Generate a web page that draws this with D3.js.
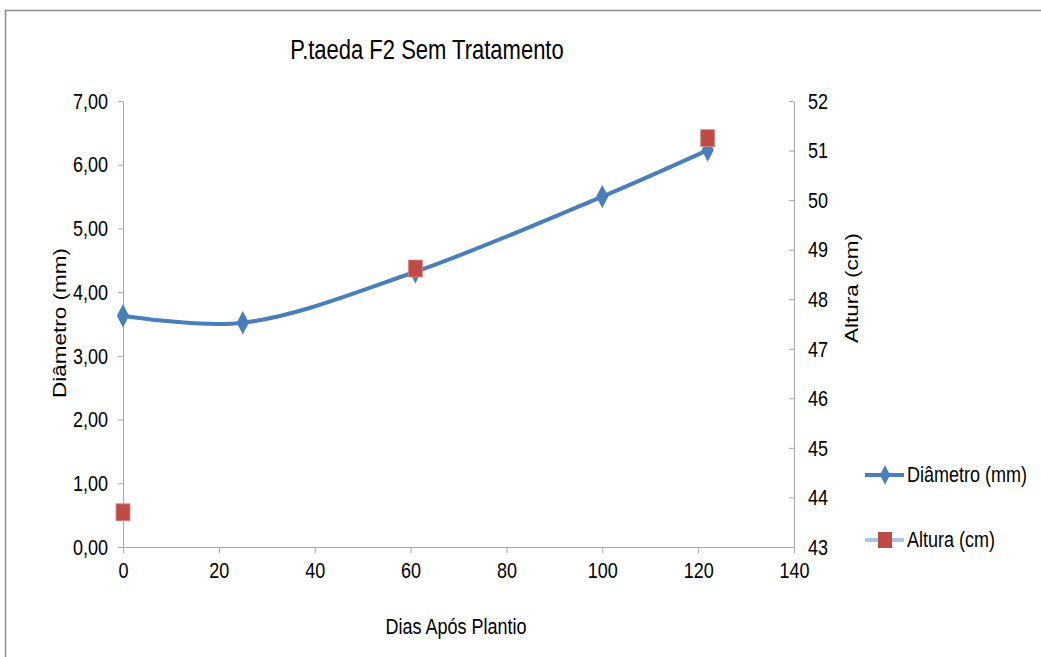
<!DOCTYPE html>
<html><head><meta charset="utf-8">
<script src="https://cdn.jsdelivr.net/npm/d3@7"></script>
<style>
html,body{margin:0;padding:0;background:#fff;}
text{font-family:"Liberation Sans",Arial,sans-serif;fill:#000;}
</style></head>
<body><svg id="c" width="1041" height="657"></svg>
<script>
const title = "P.taeda F2 Sem Tratamento";
const xLabel = "Dias Após Plantio";
const yLeftLabel = "Diâmetro  (mm)";
const yRightLabel = "Altura (cm)";
const diamDays = [0, 25, 61, 100, 122];
const diamValues = [3.63, 3.52, 4.32, 5.50, 6.23];
const altDays = [0, 61, 122];
const altValues = [43.7, 48.62, 51.25];
const xTicks = [0, 20, 40, 60, 80, 100, 120, 140];
const yLeftTicks = [0, 1, 2, 3, 4, 5, 6, 7];
const yRightTicks = [43, 44, 45, 46, 47, 48, 49, 50, 51, 52];
const legendNames = ["Diâmetro (mm)", "Altura (cm)"];

const svg = d3.select("#c");
const L = 123, R = 794, T = 101, B = 547;
const x = d3.scaleLinear().domain([0, 140]).range([L, R]);
const yL = d3.scaleLinear().domain([0, 7]).range([B, T]);
const yR = d3.scaleLinear().domain([43, 52]).range([B, T]);
const axisColor = "#a6a6a6";
const blue = "#4a7ebb", red = "#be4b48";

// frame
svg.append("path").attr("d", "M5.5,657 V10.5 H1041").attr("fill", "none").attr("stroke", "#8c8c8c").attr("stroke-width", 1.5);

const fs = "18px";
function styleAxis(g){
  g.selectAll("path,line").attr("stroke", axisColor);
  g.selectAll("text").attr("font-size", fs).attr("fill", "#000").style("font-family", '"Liberation Sans",Arial,sans-serif');
}

const fmt = d => d.toFixed(2).replace(".", ",");
const gL = svg.append("g").attr("transform", `translate(${L},0)`)
  .call(d3.axisLeft(yL).tickValues(yLeftTicks).tickFormat(fmt).tickSize(5).tickSizeOuter(0).tickPadding(10));
styleAxis(gL);
const gR = svg.append("g").attr("transform", `translate(${R},0)`)
  .call(d3.axisRight(yR).tickValues(yRightTicks).tickFormat(d3.format("d")).tickSize(0).tickSizeOuter(0).tickPadding(14));
gR.selectAll(".tick").append("line").attr("x1", -5).attr("x2", 0).attr("stroke", axisColor);
styleAxis(gR);
const gX = svg.append("g").attr("transform", `translate(0,${B})`)
  .call(d3.axisBottom(x).tickValues(xTicks).tickFormat(d3.format("d")).tickSize(6).tickSizeOuter(0).tickPadding(11));
styleAxis(gX);

// titles
svg.append("text").attr("x", 427).attr("y", 57).attr("text-anchor", "middle").attr("font-size", "22px").text(title);
svg.append("text").attr("x", 456).attr("y", 633).attr("text-anchor", "middle").attr("font-size", fs).text(xLabel);
svg.append("text").attr("transform", "translate(66,323) rotate(-90)").attr("text-anchor", "middle").attr("font-size", fs).text(yLeftLabel);
svg.append("text").attr("transform", "translate(858,288) rotate(-90)").attr("text-anchor", "middle").attr("font-size", fs).text(yRightLabel);

// diameter line
const pts = diamDays.map((d, i) => [x(d), yL(diamValues[i])]);
svg.append("path").attr("d", d3.line().curve(d3.curveCatmullRom.alpha(0.5))(pts))
  .attr("fill", "none").attr("stroke", blue).attr("stroke-width", 4);
const diamond = d3.symbol().type(d3.symbolDiamond).size(130);
svg.selectAll(".dm").data(pts).enter().append("path")
  .attr("transform", d => `translate(${d[0]},${d[1]}) scale(1,1.1)`).attr("d", diamond).attr("fill", blue);

// altura markers
svg.selectAll(".sq").data(altDays.map((d, i) => [x(d), yR(altValues[i])])).enter().append("rect")
  .attr("x", d => d[0] - 7).attr("y", d => d[1] - 8.5).attr("width", 14).attr("height", 17)
  .attr("fill", red).attr("stroke", "#d98d8b").attr("stroke-width", 0.8);

// legend
const lg = svg.append("g");
lg.append("line").attr("x1", 865).attr("x2", 904).attr("y1", 475).attr("y2", 475).attr("stroke", blue).attr("stroke-width", 4);
lg.append("path").attr("transform", "translate(885,475) scale(1,1.1)").attr("d", d3.symbol().type(d3.symbolDiamond).size(90)).attr("fill", blue);
lg.append("text").attr("x", 907).attr("y", 481).attr("font-size", fs).text(legendNames[0]);
lg.append("line").attr("x1", 865).attr("x2", 904).attr("y1", 540).attr("y2", 540).attr("stroke", "#a9c4e8").attr("stroke-width", 4);
lg.append("rect").attr("x", 878).attr("y", 532).attr("width", 14).attr("height", 16).attr("fill", red);
lg.append("text").attr("x", 907).attr("y", 546).attr("font-size", fs).text(legendNames[1]);

// vertical stretch of all text (reference glyphs are taller than wide)
svg.selectAll("text").each(function(){
  const t = this;
  const g = document.createElementNS("http://www.w3.org/2000/svg", "g");
  t.parentNode.insertBefore(g, t);
  g.appendChild(t);
  const bb = g.getBBox();
  const cy = bb.y + bb.height / 2;
  g.setAttribute("transform", `translate(0,${cy}) scale(1,1.25) translate(0,${-cy})`);
});
</script></body></html>
